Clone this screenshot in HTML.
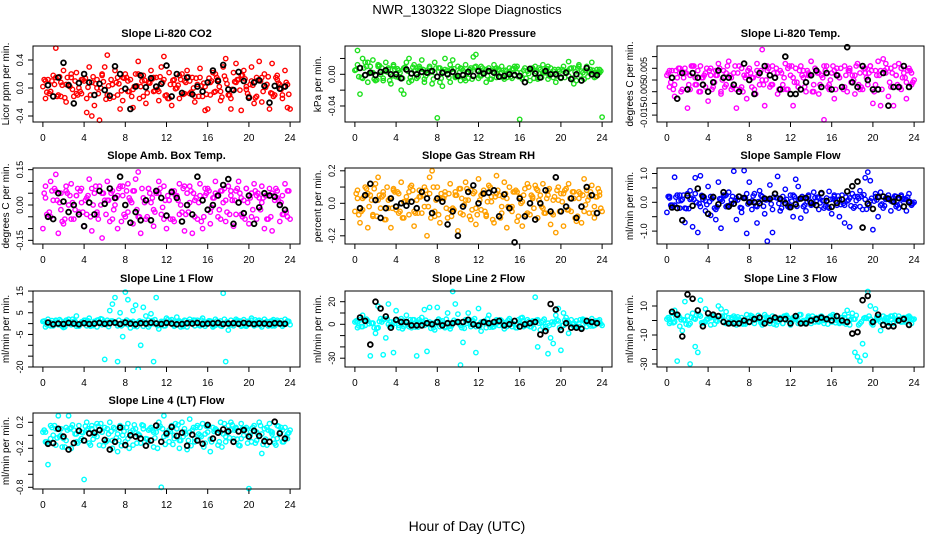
<!DOCTYPE html>
<html><head><meta charset="utf-8"><style>
html,body{margin:0;padding:0;background:#fff;}
svg{display:block;font-family:"Liberation Sans",sans-serif;}
</style></head><body>
<svg id="chart" width="936" height="540" viewBox="0 0 936 540" xmlns="http://www.w3.org/2000/svg">
<rect width="936" height="540" fill="#fff"/>
<text x="467" y="14" font-size="13" text-anchor="middle">NWR_130322  Slope Diagnostics</text>
<text x="467" y="531" font-size="14" text-anchor="middle">Hour of Day (UTC)</text>
</svg>
<script>
// ---- shared sample times (hours) ----
const hoursA = [0,0.25,0.5,0.75,1,1.25,1.5,1.75,2,2.25,2.5,2.75,3,3.25,3.5,3.75,4,4.25,4.5,4.75,5,5.25,5.5,5.75,6,6.25,6.5,6.75,7,7.25,7.5,7.75,8,8.25,8.5,8.75,9,9.25,9.5,9.75,10,10.25,10.5,10.75,11,11.25,11.5,11.75,12,12.25,12.5,12.75,13,13.25,13.5,13.75,14,14.25,14.5,14.75,15,15.25,15.5,15.75,16,16.25,16.5,16.75,17,17.25,17.5,17.75,18,18.25,18.5,18.75,19,19.25,19.5,19.75,20,20.25,20.5,20.75,21,21.25,21.5,21.75,22,22.25,22.5,22.75,23,23.25,23.5,23.75,24];
const hoursB = [0.25,0.75,1.25,1.75,2.25,2.75,3.25,3.75,4.25,4.75,5.25,5.75,6.25,6.75,7.25,7.75,8.25,8.75,9.25,9.75,10.25,10.75,11.25,11.75,12.25,12.75,13.25,13.75,14.25,14.75,15.25,15.75,16.25,16.75,17.25,17.75,18.25,18.75,19.25,19.75,20.25,20.75,21.25,21.75,22.25,22.75,23.25,23.75];
const hoursC = [0.125,0.625,1.125,1.625,2.125,2.625,3.125,3.625,4.125,4.625,5.125,5.625,6.125,6.625,7.125,7.625,8.125,8.625,9.125,9.625,10.125,10.625,11.125,11.625,12.125,12.625,13.125,13.625,14.125,14.625,15.125,15.625,16.125,16.625,17.125,17.625,18.125,18.625,19.125,19.625,20.125,20.625,21.125,21.625,22.125,22.625,23.125,23.625];
const hoursD = [0.375,0.875,1.375,1.875,2.375,2.875,3.375,3.875,4.375,4.875,5.375,5.875,6.375,6.875,7.375,7.875,8.375,8.875,9.375,9.875,10.375,10.875,11.375,11.875,12.375,12.875,13.375,13.875,14.375,14.875,15.375,15.875,16.375,16.875,17.375,17.875,18.375,18.875,19.375,19.875,20.375,20.875,21.375,21.875,22.375,22.875,23.375,23.875];
const hoursBlack = [0.5,1,1.5,2,2.5,3,3.5,4,4.5,5,5.5,6,6.5,7,7.5,8,8.5,9,9.5,10,10.5,11,11.5,12,12.5,13,13.5,14,14.5,15,15.5,16,16.5,17,17.5,18,18.5,19,19.5,20,20.5,21,21.5,22,22.5,23,23.5];
const xTicks = [0,4,8,12,16,20,24];

const titles = ["Slope Li-820 CO2","Slope Li-820 Pressure","Slope Li-820 Temp.","Slope Amb. Box Temp.","Slope Gas Stream RH","Slope Sample Flow","Slope Line 1 Flow","Slope Line 2 Flow","Slope Line 3 Flow","Slope Line 4 (LT) Flow"];
const yTitles = ["Licor ppm per min.","kPa per min.","degrees C per min.","degrees C per min.","percent per min.","ml/min per min.","ml/min per min.","ml/min per min.","ml/min per min.","ml/min per min."];

const yTicks = [
 [-0.4,-0.2,0,0.2,0.4],
 [-0.04,-0.02,0,0.02],
 [-0.015,-0.01,-0.005,0,0.005,0.01],
 [-0.15,-0.1,-0.05,0,0.05,0.1,0.15],
 [-0.2,-0.1,0,0.1,0.2],
 [-1,-0.5,0,0.5,1],
 [-20,-15,-10,-5,0,5,10,15],
 [-30,-20,-10,0,10,20],
 [-30,-20,-10,0,10],
 [-0.8,-0.6,-0.4,-0.2,0,0.2]];
const yTickLabels = [
 ["-0.4","0.0","0.4"],["-0.04","0.00"],["-0.015","-0.005","0.005"],["-0.15","0.00","0.15"],
 ["-0.2","0.0","0.2"],["-1.0","0.0","1.0"],["-20","-5","5","15"],["-30","0","20"],["-30","-10","10"],["-0.8","-0.2","0.2"]];
const yTickLabelValues = [
 [-0.4,0,0.4],[-0.04,0],[-0.015,-0.005,0.005],[-0.15,0,0.15],
 [-0.2,0,0.2],[-1,0,1],[-20,-5,5,15],[-30,0,20],[-30,-10,10],[-0.8,-0.2,0.2]];

// ---- series values ----
const co2A = [0.02,-0.15,0.12,-0.05,0.18,0.57,-0.10,0.08,0.25,-0.20,
0.05,0.15,-0.12,0.22,0.00,-0.08,0.10,-0.35,0.30,-0.40,
-0.25,0.12,-0.46,0.20,0.30,0.47,-0.15,0.05,0.25,-0.10,
-0.30,0.15,0.20,-0.05,0.12,-0.28,0.20,0.38,0.02,0.18,
-0.22,0.08,0.25,-0.05,0.15,-0.18,0.30,0.45,-0.10,0.22,
-0.25,0.12,0.00,-0.15,0.20,0.10,0.25,-0.08,0.15,-0.20,
0.05,0.28,-0.12,-0.32,-0.30,0.08,0.22,-0.05,0.12,-0.18,
0.30,0.42,-0.10,-0.30,0.22,0.35,0.12,-0.32,0.25,0.02,
-0.12,0.30,-0.22,0.15,0.38,-0.20,0.20,0.05,-0.30,0.35,
-0.10,0.18,0.05,-0.15,0.25,-0.28,-0.30];
const co2B = [0.10,-0.05,0.15,-0.12,0.05,0.20,-0.08,0.12,-0.15,0.08,
0.00,0.18,-0.10,0.05,0.15,-0.18,0.10,-0.02,0.20,-0.12,
0.08,0.15,-0.05,0.12,-0.15,0.05,0.18,-0.08,0.10,-0.12,
0.15,0.02,-0.10,0.20,-0.05,0.12,-0.15,0.08,0.18,-0.02,
0.10,-0.12,0.15,0.05,-0.08,0.12,-0.10,0.05];
const co2C = [0.12,-0.08,0.05,0.16,-0.14,0.02,0.10,-0.05,0.14,-0.10,
0.06,0.00,-0.16,0.12,0.08,-0.04,0.15,-0.12,0.03,0.10,
-0.07,0.13,-0.02,0.08,-0.15,0.11,0.04,-0.09,0.16,0.00,
-0.12,0.07,0.14,-0.06,0.02,0.17,-0.10,0.09,-0.03,0.13,
0.05,-0.14,0.10,0.01,-0.07,0.15,-0.02,0.08];
const co2D = [-0.06,0.10,-0.12,0.04,0.15,-0.02,-0.10,0.12,0.01,0.16,
-0.08,0.09,0.03,-0.13,0.06,0.14,-0.05,0.02,-0.15,0.11,
0.07,-0.04,0.16,-0.11,0.05,-0.01,0.12,0.08,-0.06,0.14,
0.03,-0.09,0.10,0.15,-0.13,0.06,-0.02,0.12,0.18,-0.08,
0.04,0.11,-0.05,0.16,-0.12,0.07,0.02,-0.09];
const co2K = [0.04,-0.12,0.15,0.36,0.04,-0.22,0.07,0.20,0.08,-0.10,
0.06,-0.03,-0.11,0.31,0.20,-0.01,-0.30,0.02,0.18,0.01,
0.14,0.02,0.06,0.32,-0.12,0.20,-0.07,0.15,-0.09,0.02,
-0.05,0.08,0.25,0.10,0.33,-0.02,-0.03,0.23,0.10,-0.14,
0.08,0.11,0.03,-0.21,0.03,-0.01,0.02];

const presA = [0.005,0.030,-0.025,0.020,0.015,-0.010,0.010,0.018,-0.008,0.012,
0.000,-0.005,0.015,0.008,-0.012,0.010,-0.003,0.005,-0.020,-0.025,
0.015,0.020,-0.008,0.012,-0.005,0.008,0.018,-0.010,0.005,0.010,
-0.012,0.015,-0.055,0.008,-0.015,0.020,0.005,-0.010,0.018,-0.003,
0.010,-0.008,0.005,0.012,-0.005,0.008,0.022,0.025,-0.005,0.010,
0.002,-0.010,0.008,0.005,0.012,-0.004,0.006,0.010,-0.006,0.004,
0.008,-0.005,0.010,0.002,-0.057,-0.006,0.008,0.004,-0.008,0.006,
0.010,-0.004,0.006,0.012,0.002,-0.006,0.008,0.004,-0.010,0.006,
-0.005,0.010,0.002,0.016,0.008,-0.012,-0.008,0.012,0.004,-0.006,
0.010,0.002,0.015,-0.004,0.006,0.002,-0.054];
const presB = [0.012,-0.005,0.015,0.002,0.010,-0.008,0.006,0.012,-0.004,0.008,
-0.010,0.004,0.010,-0.006,0.008,0.002,-0.010,0.006,0.012,-0.004,
0.008,-0.008,0.004,0.010,-0.002,0.006,-0.006,0.008,0.002,-0.004,
0.006,0.010,-0.004,0.004,0.008,-0.006,0.002,0.010,-0.004,0.006,
0.004,-0.002,0.008,0.010,-0.006,0.004,0.002,0.006];
const presC = [0.006,-0.004,0.010,0.002,-0.007,0.008,0.003,-0.002,0.007,-0.005,
0.004,0.009,-0.003,0.006,0.001,-0.006,0.008,0.003,-0.004,0.007,
0.002,-0.005,0.006,0.009,-0.002,0.004,-0.006,0.007,0.001,0.005,
-0.003,0.008,0.002,-0.005,0.006,0.003,-0.004,0.007,0.001,-0.002,
0.006,0.004,-0.005,0.008,0.002,-0.003,0.005,0.003];
const presD = [-0.003,0.008,0.001,-0.006,0.011,0.004,-0.008,0.006,0.002,0.009,
-0.004,0.005,0.007,-0.002,0.003,0.008,-0.005,0.004,0.006,-0.003,
0.007,0.001,-0.006,0.005,0.008,-0.002,0.003,0.006,-0.004,0.002,
0.007,-0.003,0.005,0.001,-0.005,0.008,0.002,-0.002,0.006,0.004,
-0.004,0.007,0.003,-0.001,0.005,0.006,-0.003,0.004];
const presK = [0.008,-0.001,0.002,-0.001,0.003,0.005,0.000,0.000,-0.005,0.006,
0.001,0.000,0.003,0.002,0.004,-0.003,0.002,0.000,0.003,-0.002,
-0.001,0.003,-0.002,0.004,0.001,0.004,0.002,-0.003,-0.002,0.000,
-0.001,-0.002,-0.010,0.007,0.001,-0.004,0.004,0.000,0.000,-0.004,
0.002,-0.006,0.000,-0.008,0.008,0.000,-0.001];

const tempA = [0.002,-0.003,0.004,-0.007,0.001,0.005,-0.004,0.003,-0.012,0.002,
0.006,-0.002,0.004,-0.005,0.001,0.003,-0.009,0.005,-0.003,0.002,
0.007,-0.006,0.004,-0.002,0.008,-0.004,0.003,-0.012,0.006,-0.003,
0.002,-0.008,0.005,0.001,-0.004,0.007,-0.002,0.013,-0.011,0.004,
-0.003,0.006,0.001,-0.006,0.004,-0.002,0.007,-0.004,0.002,-0.011,
0.005,-0.003,0.006,0.001,-0.005,0.003,0.008,-0.002,0.004,-0.006,
0.002,-0.017,0.006,-0.004,0.003,-0.008,0.005,0.001,-0.003,0.006,
-0.005,0.004,0.002,-0.006,0.007,0.003,-0.004,0.005,-0.002,0.006,
-0.010,0.004,0.008,-0.011,0.009,0.003,-0.007,0.005,-0.011,0.002,
0.007,-0.004,0.003,-0.008,0.005,-0.002,0.000];
const tempB = [0.004,-0.002,0.003,0.005,-0.004,0.001,0.006,-0.003,0.002,0.004,
-0.005,0.003,0.001,-0.004,0.005,0.002,-0.003,0.004,0.000,0.006,
-0.002,0.003,-0.004,0.005,0.001,-0.003,0.004,0.002,-0.005,0.003,
0.006,-0.002,0.004,0.001,-0.003,0.005,0.002,-0.004,0.003,0.006,
-0.002,0.004,0.007,-0.003,0.002,0.005,-0.001,0.003];
const tempC = [0.003,-0.004,0.005,0.001,-0.002,0.006,-0.005,0.002,0.004,-0.001,
0.005,-0.003,0.002,0.006,-0.004,0.001,0.003,-0.006,0.004,0.000,
-0.002,0.005,0.003,-0.004,0.006,-0.001,0.002,0.004,-0.005,0.003,
0.001,-0.003,0.006,0.002,-0.004,0.004,0.000,-0.002,0.005,0.003,
-0.005,0.002,0.004,-0.001,0.006,-0.003,0.001,0.004];
const tempD = [-0.001,0.004,-0.005,0.003,0.006,-0.002,0.001,0.005,-0.004,0.002,
0.000,0.006,-0.003,0.003,-0.005,0.004,0.001,0.002,-0.002,0.005,
0.003,-0.004,0.001,0.006,-0.001,0.004,-0.003,0.002,0.005,-0.002,
0.004,0.000,-0.004,0.005,0.002,-0.001,0.006,-0.003,0.001,0.004,
0.002,-0.004,0.005,0.003,-0.002,0.001,0.004,-0.001];
const tempK = [0.001,-0.008,0.003,-0.004,0.003,0.001,-0.002,-0.005,-0.001,0.004,
0.001,0.001,-0.002,-0.005,0.007,0.000,-0.006,0.003,0.006,0.002,
0.001,-0.004,0.010,-0.006,-0.006,-0.004,-0.001,0.002,0.004,-0.003,
0.003,-0.004,0.002,-0.003,0.014,-0.001,-0.003,0.006,0.000,-0.004,
-0.004,0.003,-0.011,-0.003,-0.003,0.006,-0.003];

const ambA = [-0.10,0.08,-0.05,0.10,0.02,0.13,-0.12,0.05,-0.08,0.06,
0.00,0.09,-0.06,0.04,-0.03,0.07,-0.09,0.03,0.11,-0.11,
0.05,-0.04,0.08,-0.14,0.02,0.10,-0.07,0.06,0.00,-0.10,
0.08,0.04,-0.05,0.09,0.02,-0.08,0.11,0.14,-0.12,0.03,
-0.06,0.07,0.01,-0.09,0.05,0.10,-0.04,0.08,-0.10,0.02,
0.06,-0.07,0.04,0.09,-0.03,-0.11,0.05,0.08,-0.12,0.02,
-0.06,0.09,-0.10,0.04,0.07,-0.08,0.03,0.10,-0.05,0.06,
0.01,-0.07,0.08,0.04,-0.09,0.06,0.10,-0.04,0.02,0.07,
-0.08,0.05,0.09,-0.06,0.03,0.08,-0.10,0.04,0.07,-0.11,
0.02,0.06,-0.07,0.04,0.09,-0.05,-0.06];
const ambB = [0.03,-0.05,0.06,-0.02,0.08,-0.06,0.04,0.01,-0.04,0.07,
-0.03,0.05,0.02,-0.06,0.04,0.08,-0.03,0.06,-0.05,0.03,
0.07,-0.02,0.05,-0.06,0.02,0.06,-0.04,0.08,0.01,-0.05,
0.04,0.07,-0.03,0.05,-0.06,0.02,0.06,-0.04,0.03,0.07,
-0.05,0.04,0.01,-0.06,0.05,0.03,-0.04,0.06];
const ambC = [0.05,-0.03,0.07,0.01,-0.06,0.04,-0.02,0.06,0.02,-0.05,
0.08,0.00,-0.04,0.05,0.03,-0.07,0.06,0.01,-0.02,0.07,
-0.05,0.03,0.06,-0.01,0.04,-0.06,0.02,0.07,-0.03,0.05,
0.01,-0.05,0.06,0.03,-0.02,0.07,-0.04,0.02,0.05,-0.06,
0.03,0.06,-0.02,0.04,-0.05,0.07,0.01,-0.03];
const ambD = [-0.04,0.06,0.02,-0.07,0.05,0.01,0.07,-0.03,0.04,0.00,
-0.06,0.05,0.02,-0.02,0.07,-0.04,0.03,0.06,-0.05,0.01,
0.05,-0.03,0.07,0.02,-0.06,0.04,0.00,-0.04,0.06,0.03,
-0.07,0.05,-0.01,0.04,0.06,-0.03,0.02,0.07,-0.05,0.01,
-0.02,0.05,0.03,-0.06,0.04,0.02,-0.04,0.06];
const ambK = [-0.05,-0.06,0.05,0.015,-0.03,0.00,-0.04,-0.09,0.01,-0.04,
0.06,0.005,0.07,0.03,0.12,0.00,-0.075,-0.03,-0.065,0.02,
-0.065,0.06,0.03,-0.045,0.055,0.03,-0.07,0.00,-0.04,0.12,
0.02,-0.02,0.00,0.04,0.085,0.11,-0.08,0.01,-0.035,0.04,
-0.08,-0.01,0.05,0.04,0.035,0.00,-0.02];

const rhA = [-0.05,0.08,-0.12,0.03,0.10,-0.15,0.05,-0.08,0.12,0.16,
-0.03,0.07,-0.10,0.02,-0.15,0.09,-0.04,0.06,0.13,-0.09,
0.04,-0.07,0.11,-0.14,0.02,0.08,-0.06,0.10,-0.20,0.16,
0.20,-0.05,0.10,-0.12,0.03,0.07,-0.09,0.12,-0.03,0.05,
-0.17,0.09,-0.07,0.13,0.02,-0.10,0.06,-0.13,0.15,-0.04,
0.08,-0.08,0.11,0.01,-0.12,0.17,0.05,-0.06,0.13,-0.15,
0.10,-0.02,0.07,-0.11,0.04,-0.14,0.09,0.12,-0.07,0.03,
0.11,-0.09,0.05,0.12,-0.06,0.08,-0.13,0.02,-0.18,0.10,
0.06,-0.14,0.09,0.12,-0.05,0.07,-0.11,0.03,-0.12,0.15,
0.08,-0.06,0.11,-0.09,0.04,0.07,-0.05];
const rhB = [0.03,-0.04,0.06,-0.07,0.02,0.05,-0.03,0.08,-0.06,0.01,
0.07,-0.05,0.04,-0.02,0.06,-0.08,0.03,0.05,-0.04,0.07,
-0.06,0.02,0.08,-0.03,0.05,-0.07,0.04,0.06,-0.02,0.03,
-0.05,0.07,0.01,-0.06,0.04,0.08,-0.03,0.05,-0.07,0.02,
0.06,-0.04,0.03,0.07,-0.05,0.04,-0.02,0.05];
const rhC = [0.06,-0.05,0.09,0.02,-0.08,0.04,0.10,-0.03,0.07,-0.09,
0.01,0.08,-0.06,0.05,-0.02,0.10,-0.07,0.03,0.06,-0.04,
0.09,-0.01,-0.08,0.07,0.02,-0.05,0.10,0.04,-0.09,0.06,
-0.03,0.08,0.00,-0.07,0.05,0.09,-0.02,0.03,-0.06,0.08,
0.01,-0.04,0.07,-0.08,0.05,0.02,-0.06,0.09];
const rhD = [-0.07,0.04,-0.02,0.09,0.05,-0.10,0.03,0.07,-0.05,0.01,
0.10,-0.06,0.04,0.08,-0.09,0.02,0.06,-0.03,-0.08,0.05,
0.03,0.09,-0.04,-0.07,0.06,0.01,-0.10,0.08,0.04,-0.02,
0.07,-0.08,0.05,0.10,-0.03,0.02,-0.06,0.09,0.04,-0.05,
0.08,0.03,-0.09,0.06,-0.01,0.07,0.04,-0.03];
const rhK = [-0.03,0.05,0.12,0.02,-0.09,-0.03,0.03,-0.02,0.00,-0.015,
0.01,-0.03,0.07,0.03,-0.06,0.03,0.01,-0.13,-0.05,-0.20,
-0.02,0.07,0.11,0.00,0.06,0.065,0.08,-0.08,0.055,-0.03,
-0.24,0.03,-0.08,0.00,-0.10,0.00,0.08,-0.05,0.16,-0.05,
-0.02,0.03,-0.09,-0.02,0.10,0.05,-0.06];

const sampA = [-0.35,0.20,-0.10,0.87,0.25,-0.20,0.10,-0.70,0.30,0.40,
-0.85,0.85,-1.05,0.92,0.10,-0.30,0.55,-0.45,0.20,-0.60,
0.70,-0.90,0.25,-0.15,0.35,0.08,1.08,-0.60,0.20,-0.35,
1.10,-1.08,0.70,-0.25,0.30,-0.72,0.40,0.10,-0.40,-1.35,
0.60,-1.05,0.30,0.90,-0.30,0.20,0.45,-0.15,0.25,-0.50,
0.80,0.55,-0.55,0.15,-0.30,0.25,-0.10,0.35,0.05,-0.25,
0.30,-0.20,0.15,0.38,-0.40,0.20,-0.10,-0.50,0.25,-0.72,
0.05,-0.85,0.30,-0.15,0.20,0.40,-0.25,0.85,1.05,0.75,
-0.95,0.30,-0.50,0.35,-0.20,0.10,0.25,-0.30,0.15,0.20,
-0.20,0.25,0.10,-0.30,0.30,-0.10,0.00];
const sampB = [0.15,-0.10,0.25,-0.20,0.10,0.30,-0.15,0.05,0.20,-0.25,
0.10,0.25,-0.05,0.15,-0.20,0.30,0.05,-0.15,0.20,0.10,
-0.25,0.15,0.05,-0.10,0.25,0.10,-0.15,0.20,-0.05,0.15,
0.05,-0.20,0.25,0.10,-0.10,0.15,0.20,-0.15,0.10,0.05,
0.20,-0.10,0.15,0.05,-0.15,0.20,0.10,-0.05];
const sampC = [0.20,-0.15,0.05,0.25,-0.22,0.10,-0.05,0.18,0.02,-0.20,
0.12,0.22,-0.10,0.06,-0.18,0.15,0.00,-0.12,0.24,0.08,
-0.06,0.16,-0.20,0.10,0.04,-0.14,0.20,0.02,-0.08,0.18,
0.06,-0.16,0.12,0.22,-0.04,0.08,-0.20,0.14,0.26,-0.10,
0.04,0.18,-0.12,0.10,0.22,-0.06,0.12,0.02];
const sampD = [-0.10,0.18,0.06,-0.22,0.14,0.00,0.24,-0.08,0.12,-0.16,
0.04,-0.12,0.20,0.08,0.16,-0.06,0.22,0.02,-0.14,0.10,
0.18,-0.04,0.06,-0.18,0.20,0.12,-0.10,0.04,0.16,-0.02,
-0.14,0.10,0.04,-0.08,0.18,-0.12,0.06,0.20,-0.24,0.14,
0.08,-0.06,0.16,0.02,-0.10,0.12,0.18,-0.04];
const sampK = [-0.18,-0.20,-0.62,0.23,-0.12,0.48,0.20,-0.40,0.18,-0.07,
0.35,-0.15,-0.05,0.20,0.15,0.00,0.00,-0.03,0.13,0.12,
0.30,0.12,-0.03,-0.17,-0.07,0.13,0.15,-0.02,-0.10,0.32,
0.05,-0.16,-0.02,0.10,0.38,0.56,0.72,-0.88,-0.05,-0.23,
0.18,0.20,0.12,0.02,0.15,-0.15,0.00];

const l1A = [1.0,-1.5,2.0,0.5,-1.0,1.5,-0.5,1.2,-1.8,0.8,
2.0,-0.5,1.0,3.5,-1.2,0.5,1.5,-1.0,2.5,-0.8,
1.0,-1.5,0.8,2.0,-16.5,1.5,6.0,9.0,12.0,-17.5,
5.0,-6.0,14.5,11.0,-2.0,6.0,8.5,-21.0,-10.0,7.5,
3.5,-1.5,4.5,-17.5,12.0,-2.5,1.0,-1.0,2.5,0.5,
1.8,-1.2,3.0,0.5,-0.8,1.5,-1.5,2.0,0.8,-1.0,
1.5,-0.5,2.5,-1.2,0.8,1.2,-1.5,2.0,0.5,-1.0,
14.0,-17.5,-3.0,1.5,-1.0,2.0,0.5,-1.2,1.8,-0.5,
1.0,2.5,-1.0,0.8,1.5,-1.5,2.0,0.5,-0.8,1.2,
-1.0,1.5,0.5,-1.2,2.0,0.8,-0.5];
const l1B = [0.5,-1.0,1.2,-0.5,1.5,0.0,-1.2,0.8,1.0,-0.8,
1.5,-0.5,0.5,1.2,-1.0,0.8,-0.5,1.0,0.5,-1.2,
1.5,0.0,-0.8,1.0,0.5,-1.0,1.2,-0.5,0.8,1.5,
-1.0,0.5,1.0,-0.8,1.2,0.0,-0.5,1.0,0.8,-1.2,
1.5,-0.5,0.5,1.0,-1.0,0.8,0.0,1.2];
const l1C = [1.2,-0.8,0.5,1.8,-1.5,0.2,1.0,-0.3,1.5,-1.2,
0.8,2.2,-0.5,1.2,0.0,-1.0,1.6,0.4,-1.4,0.9,
0.2,1.4,-0.9,0.6,1.8,-0.4,1.1,-1.3,0.3,1.6,
-0.7,0.9,1.3,-1.1,0.5,2.0,-0.6,0.8,1.2,-1.0,
0.4,1.7,-0.8,0.6,1.1,-0.3,1.4,0.2];
const l1D = [-0.5,1.4,0.3,-1.2,1.0,2.0,-0.7,0.6,1.3,-0.9,
1.7,0.1,-1.4,0.8,1.5,-0.2,0.9,-1.1,1.2,0.5,
-0.6,1.8,0.3,-1.0,1.1,0.7,-1.5,1.4,0.0,0.8,
1.6,-0.4,0.6,1.2,-1.2,0.9,0.2,1.5,-0.8,1.0,
-0.3,1.3,0.5,-1.1,1.8,0.4,-0.6,1.0];
const l1K = [0.5,-0.3,0.0,-0.2,0.3,0.0,-0.3,0.2,-0.2,0.0,
0.3,-0.1,0.2,0.4,-0.2,0.5,0.0,-0.3,0.2,0.0,
0.4,0.1,-0.2,0.3,0.0,-0.3,-0.2,0.2,0.0,0.3,
-0.2,0.0,0.1,0.3,-0.2,0.0,0.2,-0.1,0.3,0.0,
-0.2,0.1,0.0,-0.2,0.2,0.0,-0.1];

const l2A = [2.0,-3.0,4.0,8.0,-1.0,3.0,-28.0,1.0,-8.0,16.0,
5.0,-27.0,-12.0,18.0,2.0,-25.0,12.0,-3.0,5.0,-2.0,
8.0,0.0,-3.0,4.0,-28.0,2.0,6.0,13.0,-24.0,15.0,
1.0,-5.0,15.0,-2.0,3.0,-3.0,10.0,-4.0,29.0,18.0,
9.0,-36.0,-16.0,4.0,10.0,-2.0,3.0,-25.0,14.0,-6.0,
2.0,-3.0,8.0,1.0,-2.0,4.0,-1.0,3.0,-4.0,2.0,
5.0,-2.0,3.0,-3.0,2.0,6.0,-1.0,4.0,-2.0,3.0,
24.0,-20.0,-5.0,3.0,-2.0,-26.0,-12.0,-17.0,8.0,14.0,
-23.0,10.0,6.0,-8.0,4.0,-2.0,3.0,1.0,-3.0,4.0,
-2.0,3.0,5.0,-1.0,2.0,4.0,-1.0];
const l2B = [2.0,-2.0,3.0,1.0,-3.0,4.0,0.0,2.0,-1.0,3.0,
-2.0,1.0,4.0,-1.0,2.0,0.0,3.0,-2.0,1.0,2.0,
-1.0,3.0,0.0,-2.0,2.0,1.0,-1.0,3.0,2.0,-2.0,
1.0,0.0,3.0,-1.0,2.0,4.0,-2.0,1.0,0.0,3.0,
-1.0,2.0,1.0,-2.0,3.0,0.0,2.0,1.0];
const l2C = [3.0,-2.0,4.5,1.0,-3.5,2.0,5.0,-1.0,3.0,-4.0,
1.5,4.0,-2.5,2.5,0.0,-3.0,4.5,1.0,-2.0,3.5,
0.5,-3.5,2.0,5.0,-1.5,3.0,-2.5,1.0,4.0,-1.0,
2.5,-3.0,5.5,0.5,-2.0,3.5,1.5,-4.0,2.0,4.0,
-1.0,3.0,0.0,-2.5,4.5,1.5,-1.5,3.0];
const l2D = [-1.5,3.5,0.5,-3.0,2.5,4.5,-2.0,1.0,3.0,-0.5,
4.0,-2.5,1.5,3.5,-3.5,2.0,0.0,4.5,-1.5,2.5,
-3.0,1.0,3.5,-0.5,2.0,5.0,-2.5,1.5,-1.0,3.5,
0.5,4.0,-2.0,2.5,-3.5,1.0,4.5,-1.0,2.0,-3.0,
3.5,0.0,-2.0,4.0,1.5,-1.5,3.0,0.5];
const l2K = [6.0,3.0,-18.0,20.0,14.0,7.0,-3.0,4.0,2.0,2.0,
-1.0,-1.0,-1.0,1.0,0.0,2.0,-1.0,1.0,1.0,2.0,
2.0,4.0,0.0,-1.0,2.0,1.0,2.0,3.0,-1.0,0.0,
3.0,-2.0,0.0,1.0,2.0,-9.0,-6.0,18.0,13.0,-5.0,
1.0,-3.0,-3.0,-4.0,3.0,2.0,1.0];

const l3A = [1.0,-2.0,5.0,7.0,-28.0,-4.0,-7.0,13.0,3.0,-30.0,
5.0,-18.0,-22.0,14.0,-2.0,8.0,1.0,-3.0,3.0,2.0,
10.0,8.0,-1.0,6.0,2.0,-2.0,3.0,-3.0,1.0,2.0,
-2.0,4.0,-1.0,3.0,-2.0,1.0,2.0,-3.0,4.0,0.0,
-2.0,3.0,1.0,-1.0,2.0,-2.0,3.0,0.0,-3.0,2.0,
1.0,-2.0,4.0,0.0,-1.0,3.0,-2.0,1.0,2.0,-1.0,
3.0,-2.0,1.0,2.0,-1.0,3.0,0.0,-2.0,2.0,4.0,
7.0,-3.0,5.0,-22.0,-25.0,-28.0,-16.0,-24.0,20.0,10.0,
-3.0,8.0,2.0,-7.0,3.0,-1.0,2.0,3.0,-2.0,1.0,
3.0,-1.0,2.0,0.0,3.0,-2.0,1.0];
const l3B = [1.0,-1.0,2.0,0.0,-2.0,1.0,3.0,-1.0,2.0,0.0,
1.0,-2.0,2.0,1.0,-1.0,0.0,2.0,1.0,-1.0,2.0,
0.0,1.0,-2.0,2.0,1.0,0.0,-1.0,2.0,1.0,-1.0,
0.0,2.0,1.0,-1.0,2.0,0.0,1.0,-2.0,2.0,1.0,
0.0,-1.0,2.0,1.0,0.0,-1.0,2.0,1.0];
const l3C = [2.0,-1.5,3.5,0.5,-3.0,1.5,4.0,-1.0,2.5,-2.5,
1.0,3.0,-2.0,2.0,0.0,-2.5,3.5,0.5,-1.5,2.5,
0.5,-3.0,1.5,3.5,-1.0,2.5,-2.0,1.0,3.0,-0.5,
2.0,-2.5,4.0,0.5,-1.5,2.5,1.0,-3.0,1.5,3.0,
-0.5,2.5,0.0,-2.0,3.5,1.0,-1.0,2.0];
const l3D = [-1.0,2.5,0.5,-2.5,2.0,3.5,-1.5,1.0,2.5,-0.5,
3.0,-2.0,1.5,2.5,-2.5,1.5,0.0,3.5,-1.0,2.0,
-2.5,1.0,3.0,-0.5,1.5,4.0,-2.0,1.0,-1.0,2.5,
0.5,3.0,-1.5,2.0,-2.5,1.0,3.5,-1.0,1.5,-2.0,
2.5,0.0,-1.5,3.0,1.0,-1.0,2.5,0.5];
const l3K = [6.0,4.0,-11.0,18.0,15.0,7.0,-4.0,5.0,4.0,3.0,
-1.0,-2.0,-2.0,-2.0,0.0,-1.0,1.0,2.0,-2.0,0.0,
2.0,1.0,1.0,-2.0,3.0,-2.0,-2.0,0.0,1.0,2.0,
1.0,0.0,3.0,0.0,-1.0,-9.0,-8.0,14.0,17.0,-1.0,
4.0,-3.0,-4.0,-4.0,0.0,1.0,-3.0];

const l4A = [0.05,-0.10,-0.45,0.15,0.00,-0.15,0.30,0.10,-0.05,0.12,
0.30,-0.20,0.08,-0.10,0.15,0.05,-0.68,0.20,-0.12,0.10,
0.00,0.18,-0.15,0.05,0.12,-0.08,0.20,-0.20,0.10,-0.25,
0.15,0.00,-0.10,0.18,0.05,-0.15,0.10,0.02,-0.12,0.15,
-0.05,0.08,0.12,-0.18,0.05,0.20,-0.80,0.30,0.00,-0.10,
0.15,-0.05,0.10,-0.20,0.20,0.05,-0.22,0.25,0.08,-0.10,
0.15,0.00,0.18,-0.12,0.05,-0.25,0.12,0.08,-0.15,0.20,
0.02,-0.10,0.15,0.20,-0.05,0.10,-0.15,0.18,0.00,0.12,
-0.82,-0.10,0.15,0.05,0.20,-0.28,0.10,-0.15,0.18,0.02,
-0.12,0.15,0.05,-0.10,0.12,-0.05,0.08];
const l4B = [0.05,-0.05,0.10,0.00,-0.08,0.12,0.02,-0.05,0.08,0.15,
-0.02,0.05,0.10,-0.08,0.02,0.12,-0.05,0.08,0.00,0.10,
-0.10,0.05,0.12,-0.02,0.08,0.00,-0.08,0.10,0.05,-0.05,
0.12,0.02,-0.06,0.10,0.05,-0.02,0.08,0.12,-0.05,0.05,
0.10,-0.08,0.02,0.12,0.05,-0.05,0.08,0.02];
const l4C = [0.08,-0.12,0.15,-0.02,-0.18,0.10,0.02,-0.08,0.14,-0.15,
0.05,0.18,-0.10,0.06,-0.04,-0.16,0.12,0.00,-0.12,0.16,
-0.06,0.08,-0.20,0.10,0.04,-0.14,0.16,-0.02,-0.08,0.12,
0.02,-0.18,0.14,0.06,-0.10,0.18,-0.04,0.08,-0.16,0.10,
0.00,-0.12,0.15,-0.06,0.06,-0.15,0.12,-0.02];
const l4D = [-0.10,0.12,-0.04,-0.18,0.08,0.16,-0.12,0.04,0.10,-0.06,
0.14,-0.16,0.02,0.12,-0.08,0.06,-0.20,0.16,0.00,-0.10,
0.10,-0.04,0.14,-0.14,0.06,0.18,-0.08,0.02,-0.16,0.12,
-0.02,0.14,-0.10,0.08,-0.18,0.04,0.16,-0.06,0.10,-0.12,
0.12,0.02,-0.14,0.08,-0.06,0.14,-0.10,0.04];
const l4K = [-0.13,-0.12,0.10,-0.02,-0.22,-0.12,0.07,-0.08,0.03,0.04,
0.08,-0.07,-0.22,-0.10,0.12,-0.15,0.00,-0.02,-0.05,-0.16,
-0.08,0.15,-0.10,0.03,0.13,-0.01,0.04,-0.16,0.01,-0.08,
-0.13,0.16,-0.05,0.04,0.09,0.06,-0.10,0.06,0.08,-0.02,
0.07,-0.01,-0.09,-0.10,0.21,0.03,-0.05];

const seriesA = [co2A,presA,tempA,ambA,rhA,sampA,l1A,l2A,l3A,l4A];
const seriesB = [co2B,presB,tempB,ambB,rhB,sampB,l1B,l2B,l3B,l4B];
const seriesC = [co2C,presC,tempC,ambC,rhC,sampC,l1C,l2C,l3C,l4C];
const seriesD = [co2D,presD,tempD,ambD,rhD,sampD,l1D,l2D,l3D,l4D];
const seriesK = [co2K,presK,tempK,ambK,rhK,sampK,l1K,l2K,l3K,l4K];
const colors = ["#ff0000","#1ee01e","#ff00ff","#ff00ff","#ffa000","#0000ff","#00ffff","#00ffff","#00ffff","#00ffff"];

// ---- layout ----
const NS = "http://www.w3.org/2000/svg";
const svg = document.getElementById("chart");
const colLeft = [33,345,657], rowTop = [46,168,291,413], BW = 267, BH = 76;
const zeroOff = [42,28.3,34,37,35.3,34.3,32.6,33.3,29.5,22.3];
const pxPerUnit = [70,792,2340,235.6,162.5,28.8,2.17,1.13,1.45,65];

function mk(tag, attrs, parent){
  const e = document.createElementNS(NS, tag);
  for (const k in attrs) e.setAttribute(k, attrs[k]);
  (parent||svg).appendChild(e);
  return e;
}
function slug(s){return s.toLowerCase().replace(/[^a-z0-9]+/g,'-').replace(/^-|-$/g,'');}

titles.forEach((t, p) => {
  const L = colLeft[p % 3], T = rowTop[Math.floor(p / 3)];
  const xs = h => L + (h + 0.96) * BW / 25.92;
  const ys = v => T + zeroOff[p] - v * pxPerUnit[p];
  const g = mk("g", {});
  
  

  const clipId = 'clip' + p;
  const cp = mk("clipPath", {id: clipId}, g);
  mk("rect", {x: L - 3, y: T - 3, width: BW + 6, height: BH + 6}, cp);
  const pts = mk("g", {"clip-path": "url(#" + clipId + ")"}, g);
  
  

  const drawSet = (hrs, vals, col, r, sw, cls) => {
    const n = Math.min(hrs.length, vals.length);
    for (let i = 0; i < n; i++) {
      const c = mk("circle", {cx: xs(hrs[i]).toFixed(1), cy: ys(vals[i]).toFixed(1), r: r, fill: "none", stroke: col, "stroke-width": sw}, pts);
      
      
    }
  };
  drawSet(hoursA, seriesA[p], colors[p], 2.2, 1.4, 'colored-point');
  drawSet(hoursB, seriesB[p], colors[p], 2.2, 1.4, 'colored-point');
  drawSet(hoursC, seriesC[p], colors[p], 2.2, 1.4, 'colored-point');
  drawSet(hoursD, seriesD[p], colors[p], 2.2, 1.4, 'colored-point');
  drawSet(hoursBlack, seriesK[p], "#000", 2.4, 1.8, 'black-point');

  const box = mk("rect", {x: L, y: T, width: BW, height: BH, fill: "none", stroke: "#000", "stroke-width": 1}, g);
  
  

  const title = mk("text", {x: L + BW / 2, y: T - 9, "font-size": 11, "font-weight": "bold", "text-anchor": "middle"}, g);
  title.textContent = t;
  
  

  const B = T + BH;
  mk("line", {x1: xs(0), x2: xs(24), y1: B, y2: B, stroke: "#000"}, g);
  xTicks.forEach(v => {
    mk("line", {x1: xs(v), x2: xs(v), y1: B, y2: B + 5, stroke: "#000"}, g);
    const tl = mk("text", {x: xs(v), y: B + 19, "font-size": 10, "text-anchor": "middle"}, g);
    tl.textContent = v;
    
    
  });

  const tks = yTicks[p];
  mk("line", {x1: L, x2: L, y1: ys(tks[0]), y2: ys(tks[tks.length - 1]), stroke: "#000"}, g);
  tks.forEach(v => mk("line", {x1: L - 5, x2: L, y1: ys(v), y2: ys(v), stroke: "#000"}, g));
  yTickLabelValues[p].forEach((v, i) => {
    const y = ys(v);
    const tl = mk("text", {x: 0, y: 0, "font-size": 9, "text-anchor": "middle", transform: "translate(" + (L - 10) + "," + y + ") rotate(-90)"}, g);
    tl.textContent = yTickLabels[p][i];
    
    
  });
  const yt = mk("text", {x: 0, y: 0, "font-size": 10, "text-anchor": "middle", transform: "translate(" + (L - 24) + "," + (T + BH / 2) + ") rotate(-90)"}, g);
  yt.textContent = yTitles[p];
  
  
});
</script>
</body></html>
